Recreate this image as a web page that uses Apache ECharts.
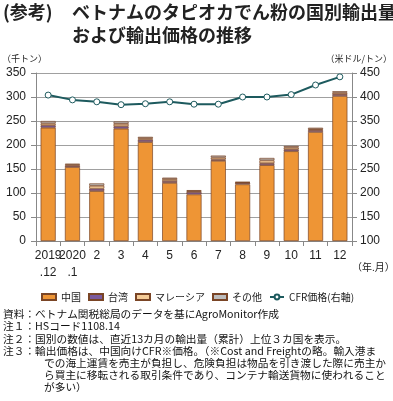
<!DOCTYPE html>
<html><head><meta charset="utf-8">
<script src="https://cdn.jsdelivr.net/npm/echarts@6/dist/echarts.min.js"></script>
<style>html,body{margin:0;padding:0;background:#fff}#c{width:393px;height:401px}</style>
</head><body><div id="c"></div>
<script>
const categories = ['2019\n.12','2020\n.1','2','3','4','5','6','7','8','9','10','11','12'];
const china    = [236,154,104,234,206,121,97,167,118,158,187,227,302];
const taiwan   = [5,3,5,5,5,4,5,3,3,4,4,4,4];
const malaysia = [4,2,6,5,3,4,2,4,1,6,4,2,3];
const others   = [5,2,5,5,3,3,2,4,1,5,3,3,3];
const cfr      = [404,394,390,384,386,390,385,385,400,400,405,425,442];
const leftTicks = [0,350,50];
const rightTicks = [100,450,50];

const FONT = '"Noto Sans CJK JP", "Noto Sans", sans-serif';
const border = '#7a4526';
function barSeries(name, data, color){
  return {name, type:'bar', stack:'v', data, barWidth:'62%',
    itemStyle:{color, borderColor:border, borderWidth:0.7}};
}
const notes = [
  ['資料：ベトナム関税総局のデータを基にAgroMonitor作成',3,315],
  ['注１：HSコード1108.14',3,327],
  ['注２：国別の数値は、直近13カ月の輸出量（累計）上位３カ国を表示。',3,340],
  ['注３：輸出価格は、中国向けCFR※価格。（※Cost and Freightの略。輸入港ま',3,352],
  ['での海上運賃を売主が負担し、危険負担は物品を引き渡した際に売主か',44,364],
  ['ら買主に移転される取引条件であり、コンテナ輸送貨物に使われること',44,376],
  ['が多い）',44,388]
];
const chart = echarts.init(document.getElementById('c'));
chart.setOption({
  animation:false,
  textStyle:{fontFamily:FONT},
  grid:{left:36,right:41,top:73,bottom:160,containLabel:false},
  legend:{left:36,top:287,itemWidth:14,itemHeight:6,itemGap:7,
    textStyle:{fontSize:10,color:'#222',fontFamily:FONT},
    data:[{name:'中国',icon:'rect'},{name:'台湾',icon:'rect'},{name:'マレーシア',icon:'rect'},{name:'その他',icon:'rect'},'CFR価格(右軸)']},
  xAxis:{type:'category',data:categories,
    axisLine:{lineStyle:{color:'#888'}},
    axisTick:{show:true,alignWithLabel:false,lineStyle:{color:'#888'}},
    axisLabel:{interval:0,color:'#222',fontSize:12,lineHeight:17,margin:6,fontFamily:'Liberation Sans, Arial, sans-serif'}},
  yAxis:[
    {type:'value',min:leftTicks[0],max:leftTicks[1],interval:leftTicks[2],
     axisLine:{show:true,lineStyle:{color:'#888'}},axisTick:{show:true,lineStyle:{color:'#888'}},
     splitLine:{lineStyle:{color:'#888',width:0.8}},
     axisLabel:{color:'#222',fontSize:12,margin:10,fontFamily:'Liberation Sans, Arial, sans-serif'}},
    {type:'value',min:rightTicks[0],max:rightTicks[1],interval:rightTicks[2],
     axisLine:{show:true,lineStyle:{color:'#888'}},axisTick:{show:true,lineStyle:{color:'#888'}},
     splitLine:{show:false},
     axisLabel:{color:'#222',fontSize:12,margin:8,fontFamily:'Liberation Sans, Arial, sans-serif'}}
  ],
  series:[
    barSeries('中国',china,'#EE9535'),
    barSeries('台湾',taiwan,'#7B5A9E'),
    barSeries('マレーシア',malaysia,'#F5CC98'),
    barSeries('その他',others,'#BDBDBD'),
    {name:'CFR価格(右軸)',type:'line',yAxisIndex:1,data:cfr,
     symbol:'circle',symbolSize:6,
     lineStyle:{color:'#1d5a5e',width:2},
     itemStyle:{color:'#fff',borderColor:'#1d5a5e',borderWidth:1}}
  ],
  graphic:[
    {type:'text',left:3,top:3,style:{text:'(参考)',font:'bold 18px '+FONT,fill:'#222'}},
    {type:'text',left:72,top:3,style:{text:'ベトナムのタピオカでん粉の国別輸出量',font:'bold 18px '+FONT,fill:'#222'}},
    {type:'text',left:72,top:26,style:{text:'および輸出価格の推移',font:'bold 18px '+FONT,fill:'#222'}},
    {type:'text',left:2,top:54,style:{text:'（千トン）',font:'9px '+FONT,fill:'#222'}},
    {type:'text',right:1,top:54,style:{text:'（米ドル/トン）',font:'9px '+FONT,fill:'#222'}},
    {type:'text',left:352,top:262,style:{text:'（年.月）',font:'10px '+FONT,fill:'#222'}},
  ].concat(notes.map(n=>({type:'text',left:n[1],top:n[2]-6,style:{text:n[0],font:'10.7px '+FONT,fill:'#111'}})))
});
</script></body></html>
